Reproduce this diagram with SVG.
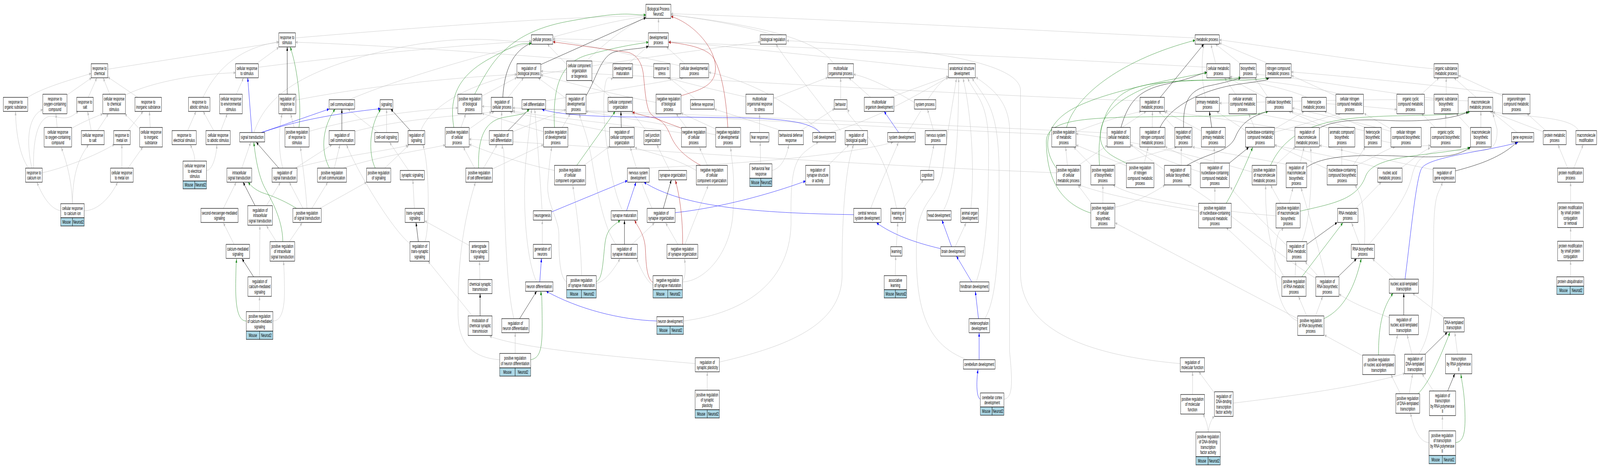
<svg xmlns="http://www.w3.org/2000/svg" width="7615" height="1197" viewBox="0 0 7615 1197" preserveAspectRatio="none">
<style>
svg:root{width:100vw;height:100vh}
text{font-family:"Liberation Sans",Arial,sans-serif;font-size:13px;text-anchor:middle;fill:#000}
.nodes rect{fill:#fff;stroke:#000;stroke-width:1.2}
.nodes rect.m{fill:#add8e6}
#edges path{fill:none;stroke-width:1}
.gy path{stroke:#c0c0c0;marker-end:url(#ag)}
.bk path{stroke:#000;stroke-width:1.2;marker-end:url(#ak)}
.bl path{stroke:#0000ff;stroke-width:1.2;marker-end:url(#ab)}
.gn path{stroke:#228b22;stroke-width:1.2;marker-end:url(#an)}
.rd path{stroke:#b22222;stroke-width:1.2;marker-end:url(#ar)}
</style>
<defs>
<marker id="ag" viewBox="0 0 10 8" refX="10" refY="4" markerWidth="10" markerHeight="8" markerUnits="userSpaceOnUse" orient="auto"><path d="M0,0L10,4L0,8z" fill="#c0c0c0"/></marker>
<marker id="ak" viewBox="0 0 10 8" refX="10" refY="4" markerWidth="10" markerHeight="8" markerUnits="userSpaceOnUse" orient="auto"><path d="M0,0L10,4L0,8z" fill="#000"/></marker>
<marker id="ab" viewBox="0 0 10 8" refX="10" refY="4" markerWidth="10" markerHeight="8" markerUnits="userSpaceOnUse" orient="auto"><path d="M0,0L10,4L0,8z" fill="#0000ff"/></marker>
<marker id="an" viewBox="0 0 10 8" refX="10" refY="4" markerWidth="10" markerHeight="8" markerUnits="userSpaceOnUse" orient="auto"><path d="M0,0L10,4L0,8z" fill="#228b22"/></marker>
<marker id="ar" viewBox="0 0 10 8" refX="10" refY="4" markerWidth="10" markerHeight="8" markerUnits="userSpaceOnUse" orient="auto"><path d="M0,0L10,4L0,8z" fill="#b22222"/></marker>
</defs>
<rect width="7615" height="1197" fill="#fff"/>
<g id="edges">
<g class="gy">
<path d="M132,249 C200,225 330,205 434,188"/>
<path d="M319,243 L436,199"/>
<path d="M420,249 L461,199"/>
<path d="M522,241 L491,199"/>
<path d="M656,249 L513,197"/>
<path d="M513,177 L1327,108"/>
<path d="M597,243 C700,215 900,190 1121,186"/>
<path d="M272,326 L266,291"/>
<path d="M341,328 C400,310 450,300 489,291"/>
<path d="M434,334 L417,285"/>
<path d="M464,334 L516,291"/>
<path d="M609,334 L681,285"/>
<path d="M715,326 L711,285"/>
<path d="M665,330 L594,291"/>
<path d="M136,430 C95,400 75,340 74,285"/>
<path d="M152,430 C130,380 120,300 204,280"/>
<path d="M160,430 C155,330 200,290 260,298 S340,300 373,284"/>
<path d="M201,442 C300,430 450,400 545,369"/>
<path d="M580,430 L580,369"/>
<path d="M609,430 L680,376"/>
<path d="M289,539 C240,535 200,500 176,466"/>
<path d="M345,521 C340,460 320,420 292,377"/>
<path d="M345,521 C345,440 380,400 422,370"/>
<path d="M401,539 C460,539 520,510 560,466"/>
<path d="M966,249 C1010,200 1100,125 1327,107"/>
<path d="M1220,163 L1327,121"/>
<path d="M1124,242 L1159,199"/>
<path d="M893,334 L933,285"/>
<path d="M1017,334 L967,285"/>
<path d="M1051,334 L1082,291"/>
<path d="M927,412 C927,395 915,380 905,370"/>
<path d="M983,436 C1010,436 1030,400 1032,370"/>
<path d="M1400,326 L1383,291"/>
<path d="M1408,256 C1700,225 2100,200 2460,190"/>
<path d="M1208,339 C1260,260 1380,190 1800,134 S2400,110 2529,107"/>
<path d="M1662,255 C1900,200 2300,140 2529,110"/>
<path d="M1800,339 L1656,279"/>
<path d="M1689,336 C1900,305 2200,295 2340,287"/>
<path d="M1953,624 C1870,590 1700,440 1649,370"/>
<path d="M1471,336 C1700,300 2000,280 2179,276"/>
<path d="M1346,430 C1325,390 1325,330 1343,291"/>
<path d="M1403,430 C1600,400 1800,390 1942,372"/>
<path d="M1403,431 L1580,370"/>
<path d="M1151,430 L1193,364"/>
<path d="M1063,533 L1124,466"/>
<path d="M1268,526 L1335,466"/>
<path d="M1442,533 L1377,466"/>
<path d="M1484,533 L1560,466"/>
<path d="M1461,533 C1455,480 1440,420 1430,376"/>
<path d="M1522,533 L1745,466"/>
<path d="M1114,625 L1063,570"/>
<path d="M1235,708 L1237,577"/>
<path d="M1315,618 L1268,577"/>
<path d="M1377,618 L1438,570"/>
<path d="M1235,797 L1235,758"/>
<path d="M1299,821 C1340,821 1355,790 1354,740 S1351,690 1350,668"/>
<path d="M1591,430 L1618,370"/>
<path d="M1633,430 C1800,400 2000,385 2119,371"/>
<path d="M1831,430 L1946,371"/>
<path d="M1840,339 L1840,279"/>
<path d="M2003,334 C2040,280 2200,220 2460,190"/>
<path d="M1945,436 L1854,364"/>
<path d="M1972,533 L1965,460"/>
<path d="M2022,618 C2045,590 2045,420 2012,370"/>
<path d="M2234,628 L2021,565"/>
<path d="M2284,715 L2282,668"/>
<path d="M2248,808 L2037,668"/>
<path d="M3309,930 C3000,915 2500,895 2330,860"/>
<path d="M2194,326 L2217,291"/>
<path d="M2293,246 L2460,198"/>
<path d="M2418,249 L2492,199"/>
<path d="M2574,190 C2900,160 3300,130 3618,107"/>
<path d="M2597,258 C2800,240 3100,215 3252,199"/>
<path d="M2386,334 L2388,285"/>
<path d="M2441,337 L2694,280"/>
<path d="M2233,330 L2352,285"/>
<path d="M2301,430 L2366,370"/>
<path d="M2259,430 L2205,376"/>
<path d="M2344,432 L2587,370"/>
<path d="M2695,252 L2561,199"/>
<path d="M2676,326 L2714,291"/>
<path d="M2588,337 L2293,290"/>
<path d="M2697,165 L2605,113"/>
<path d="M2909,249 L2813,206"/>
<path d="M2901,337 C2750,320 2550,300 2427,286"/>
<path d="M2779,423 L2902,374"/>
<path d="M2639,436 C2500,420 2350,395 2233,369"/>
<path d="M2580,539 C2570,450 2555,340 2545,279"/>
<path d="M2581,625 L2581,563"/>
<path d="M2554,721 C2500,660 2485,500 2505,400 S2525,300 2531,279"/>
<path d="M2446,815 C2410,740 2400,550 2400,450 S2392,390 2390,370"/>
<path d="M2452,904 L2452,851"/>
<path d="M2378,920 C2250,915 2180,880 2180,800 S2185,600 2263,466"/>
<path d="M2963,539 C2900,470 2865,300 2875,240 S2900,205 2918,199"/>
<path d="M2932,625 C2880,590 2845,500 2820,420 S2770,320 2757,291"/>
<path d="M2838,725 C2880,720 2920,690 2951,662"/>
<path d="M2697,721 C2660,710 2660,640 2660,600 S2600,520 2607,470 S2620,395 2626,376"/>
<path d="M2768,705 C2765,620 2745,540 2726,474"/>
<path d="M3108,730 C3080,720 3050,690 3030,661"/>
<path d="M3248,719 C3262,710 3264,690 3258,662"/>
<path d="M3248,721 C3350,720 3480,650 3489,540 S3482,420 3478,377"/>
<path d="M3065,430 C3500,420 4000,400 4250,364"/>
<path d="M3187,436 L3126,370"/>
<path d="M3075,334 C3040,310 3020,295 3005,285"/>
<path d="M3103,533 C3060,480 3020,420 3000,376"/>
<path d="M3226,625 L3168,570"/>
<path d="M3260,625 L3371,474"/>
<path d="M3008,625 L3115,570"/>
<path d="M3367,423 L3329,377"/>
<path d="M3314,436 C3200,400 3080,390 3021,377"/>
<path d="M3268,327 L3218,291"/>
<path d="M3243,340 C3000,320 2600,300 2440,284"/>
<path d="M3122,262 C2900,240 2700,210 2574,192"/>
<path d="M3406,330 L3241,289"/>
<path d="M3406,345 C3200,320 2950,300 2789,285"/>
<path d="M3111,170 C2500,140 1800,115 1406,108"/>
<path d="M3260,163 L3172,120"/>
<path d="M3235,168 C3000,140 2800,115 2632,102"/>
<path d="M3134,84 L3134,47"/>
<path d="M2631,95 C2800,70 2950,50 3074,42"/>
<path d="M1406,97 C2000,70 2600,45 3074,40"/>
<path d="M3680,89 C3500,60 3300,45 3193,38"/>
<path d="M5688,97 C5000,80 4000,50 3193,35"/>
<path d="M3968,163 C3900,110 3700,70 3193,38"/>
<path d="M3314,255 L3184,199"/>
<path d="M3681,252 L3940,198"/>
<path d="M3550,248 C3400,230 3250,210 3176,199"/>
<path d="M3615,339 L3615,291"/>
<path d="M3620,419 L3618,363"/>
<path d="M3674,436 C3720,430 3745,400 3754,370"/>
<path d="M3719,334 L3400,279"/>
<path d="M3811,334 L3972,278"/>
<path d="M4001,255 L4001,199"/>
<path d="M4144,249 L4040,199"/>
<path d="M4238,249 L4514,195"/>
<path d="M3903,339 C3800,280 3600,210 3374,185"/>
<path d="M3949,339 C4200,300 4400,230 4514,198"/>
<path d="M4000,334 C3900,260 3760,170 3693,113"/>
<path d="M3941,423 L4041,370"/>
<path d="M3424,926 C3800,880 4010,820 4008,700 S4020,430 4063,370"/>
<path d="M3366,998 L3366,951"/>
<path d="M3253,821 C3550,800 3770,720 3765,560 S3800,400 3895,363"/>
<path d="M4144,533 C4180,480 4250,400 4276,364"/>
<path d="M4319,339 C4380,290 4440,220 4514,196"/>
<path d="M4352,262 C4250,230 4150,200 4062,190"/>
<path d="M4443,334 L4414,279"/>
<path d="M4420,436 L4445,370"/>
<path d="M4299,533 L4395,460"/>
<path d="M4267,533 C4240,460 4200,390 4100,330 S4040,285 4033,279"/>
<path d="M4266,631 L4273,569"/>
<path d="M4261,705 L4263,655"/>
<path d="M4489,539 C4540,490 4560,400 4563,200"/>
<path d="M4621,533 C4640,420 4620,280 4583,200"/>
<path d="M4546,631 L4598,570"/>
<path d="M4646,721 C4700,640 4705,500 4705,380 S4650,250 4605,200"/>
<path d="M4687,815 C4750,760 4755,620 4755,450 S4700,260 4626,200"/>
<path d="M4603,920 C4400,880 4355,780 4362,620 C4370,500 4470,520 4490,420 C4510,330 4540,250 4552,200"/>
<path d="M4778,1021 C4820,1018 4820,980 4805,900 L4805,330 C4800,250 4700,220 4644,197"/>
<path d="M4514,178 C4000,150 3500,120 3182,106"/>
<path d="M5121,337 C5250,310 5350,295 5431,285"/>
<path d="M5006,344 C4000,320 3000,290 2294,272"/>
<path d="M5080,423 L5072,376"/>
<path d="M5133,423 L5270,372"/>
<path d="M5028,442 C4000,420 3000,380 2233,356"/>
<path d="M5195,423 L5110,376"/>
<path d="M5290,423 L5600,376"/>
<path d="M5340,326 L5455,285"/>
<path d="M5269,340 C4500,320 3200,290 2440,276"/>
<path d="M5195,520 L5130,473"/>
<path d="M5249,520 L5249,473"/>
<path d="M5306,530 C5400,520 5500,490 5545,473"/>
<path d="M5446,417 L5465,376"/>
<path d="M5361,424 L5122,371"/>
<path d="M5786,163 L5763,113"/>
<path d="M5744,172 C5000,150 3500,110 2632,99"/>
<path d="M5905,163 L5785,113"/>
<path d="M6039,163 L5803,110"/>
<path d="M5426,258 C4500,240 3300,200 2574,182"/>
<path d="M5737,249 C5715,200 5720,140 5730,113"/>
<path d="M5882,242 L5828,199"/>
<path d="M6028,251 L5845,199"/>
<path d="M6035,249 L5972,199"/>
<path d="M6313,265 C6450,270 6550,275 6648,280"/>
<path d="M6220,249 C6100,220 5900,205 5850,199"/>
<path d="M6380,241 C6200,215 5950,205 5854,196"/>
<path d="M6358,245 L6146,193"/>
<path d="M5484,326 L5485,285"/>
<path d="M5595,330 L5515,285"/>
<path d="M5718,335 L5540,285"/>
<path d="M5970,326 L5943,291"/>
<path d="M6066,330 L6207,285"/>
<path d="M6066,338 C6200,320 6300,300 6380,291"/>
<path d="M5928,334 L5790,285"/>
<path d="M6163,335 C5900,310 5700,295 5545,284"/>
<path d="M6341,328 L5985,291"/>
<path d="M6330,330 L6134,285"/>
<path d="M6502,327 L6303,285"/>
<path d="M6495,335 C6300,310 6200,295 6145,285"/>
<path d="M6574,360 C6650,370 6750,375 6809,372"/>
<path d="M5622,423 L5622,376"/>
<path d="M5542,435 L5380,370"/>
<path d="M5779,417 L5779,376"/>
<path d="M5714,420 L5545,375"/>
<path d="M5713,440 C5600,420 5450,390 5380,370"/>
<path d="M6069,423 L6165,376"/>
<path d="M5959,440 C5700,400 5400,360 5121,342"/>
<path d="M6188,417 L6207,376"/>
<path d="M6121,420 L5675,376"/>
<path d="M6316,432 L6066,370"/>
<path d="M6386,423 L6386,376"/>
<path d="M6440,423 L6498,376"/>
<path d="M6455,423 C6550,400 6600,380 6640,376"/>
<path d="M6567,430 C6400,405 6200,385 6066,372"/>
<path d="M6667,430 C6720,410 6760,390 6807,378"/>
<path d="M5782,520 L5782,480"/>
<path d="M5705,540 C5500,520 5300,505 5135,473"/>
<path d="M6095,520 L6047,473"/>
<path d="M6135,520 L6154,480"/>
<path d="M6073,552 C5800,540 5400,510 5297,473"/>
<path d="M6452,533 L6574,466"/>
<path d="M6124,628 C6000,560 5900,510 5855,478"/>
<path d="M6196,618 C6240,560 6245,440 6238,377"/>
<path d="M6471,625 L6433,570"/>
<path d="M6494,625 C6500,570 6490,500 6448,474"/>
<path d="M6518,623 C6620,560 6700,500 6720,450 C6740,400 6800,385 6900,384 C7050,385 7130,400 7125,330 L7105,290"/>
<path d="M6164,708 L6167,668"/>
<path d="M6101,715 L5836,582"/>
<path d="M6112,708 C6040,650 6020,550 6024,474"/>
<path d="M6276,708 L6211,669"/>
<path d="M6307,708 C6270,620 6220,530 6192,480"/>
<path d="M6262,712 C6050,640 5800,520 5652,474"/>
<path d="M6219,808 L6180,758"/>
<path d="M6261,808 L6295,758"/>
<path d="M6176,821 C6080,800 6060,700 6070,640 S6100,590 6108,582"/>
<path d="M6176,815 L5307,570"/>
<path d="M6485,910 L6303,857"/>
<path d="M6630,908 L6652,856"/>
<path d="M5617,930 C5200,910 4860,850 4857,700 L4857,230 C4850,160 4400,120 3744,104"/>
<path d="M5676,1009 L5676,951"/>
<path d="M5780,1005 L5706,951"/>
<path d="M5750,1105 C5748,1085 5735,1068 5725,1059"/>
<path d="M5750,1105 C5755,1085 5768,1070 5780,1065"/>
<path d="M5869,1031 C6200,1010 6500,985 6687,955"/>
<path d="M6825,176 C6500,160 6000,115 5803,102"/>
<path d="M6765,241 L6849,199"/>
<path d="M6883,241 L6883,199"/>
<path d="M6825,252 C6500,230 6200,200 5979,190"/>
<path d="M7024,248 L6920,199"/>
<path d="M6988,258 C6600,250 6100,260 5803,264"/>
<path d="M7151,245 L6941,193"/>
<path d="M7160,241 C6800,215 6400,195 6145,184"/>
<path d="M6620,330 L6492,290"/>
<path d="M6620,336 C6450,310 6250,290 6150,276"/>
<path d="M6830,326 L6765,290"/>
<path d="M6881,326 L6881,291"/>
<path d="M6999,330 L6930,290"/>
<path d="M7048,326 L7048,285"/>
<path d="M7221,339 L7098,285"/>
<path d="M7345,337 L7090,285"/>
<path d="M7357,334 L7267,290"/>
<path d="M7513,334 C7480,300 7300,300 7105,287"/>
<path d="M6821,434 C6600,410 6400,385 6279,372"/>
<path d="M7461,430 L7415,370"/>
<path d="M7490,430 L7535,370"/>
<path d="M7475,519 L7475,466"/>
<path d="M7475,617 L7475,582"/>
<path d="M7475,708 L7475,667"/>
<path d="M6640,714 L6532,662"/>
<path d="M6612,812 C6500,790 6420,770 6373,752"/>
<path d="M6875,813 L6723,750"/>
<path d="M6720,906 L6697,856"/>
<path d="M6753,906 C6820,850 6823,760 6823,620 S6850,500 6865,465"/>
<path d="M6937,906 L6924,850"/>
<path d="M6707,1007 L6723,956"/>
<path d="M6665,1007 L6620,958"/>
<path d="M6823,1000 L6768,956"/>
<path d="M6865,1102 L6865,1063"/>
<path d="M6801,1132 C6760,1132 6730,1100 6713,1056"/>
<path d="M1230,172 C1700,140 2200,115 2529,105"/>
<path d="M2990,163 L3086,117"/>
<path d="M2790,156 C2900,100 3000,60 3074,46"/>
</g>
<g class="bk">
<path d="M1367,241 L1367,120"/>
<path d="M1627,334 L1627,279"/>
<path d="M1327,430 L1220,364"/>
<path d="M1214,526 L1157,466"/>
<path d="M1207,708 L1152,662"/>
<path d="M1953,334 L1860,279"/>
<path d="M1991,618 L1980,569"/>
<path d="M2285,808 L2285,751"/>
<path d="M2393,249 C2400,180 2440,130 2529,110"/>
<path d="M2574,165 L3074,45"/>
<path d="M2418,334 L2519,279"/>
<path d="M2789,245 C2840,200 2860,140 2930,132 S3060,125 3086,118"/>
<path d="M2957,326 L2955,285"/>
<path d="M2473,815 L2554,745"/>
<path d="M2972,625 L2972,563"/>
<path d="M3157,533 L3195,460"/>
<path d="M5335,326 C5370,260 5420,230 5550,215 S5700,190 5744,185"/>
<path d="M5522,249 L5729,113"/>
<path d="M5521,326 C5560,280 5700,230 5900,215 S6010,205 6040,199"/>
<path d="M5633,326 C5630,260 5660,230 5750,220 S5870,205 5905,199"/>
<path d="M5767,326 L5756,285"/>
<path d="M6279,328 C6350,305 6500,305 6600,308 S6900,310 6988,286"/>
<path d="M5649,423 C5750,390 5850,390 5880,350 S5970,295 6035,285"/>
<path d="M5851,417 L5943,377"/>
<path d="M6219,428 C6300,395 6500,395 6700,400 S6950,395 6999,376"/>
<path d="M6220,625 L6364,569"/>
<path d="M6368,708 L6456,662"/>
<path d="M6927,437 C7050,420 7150,400 7221,363"/>
<path d="M6681,806 L6681,750"/>
<path d="M6782,906 L6888,850"/>
<path d="M6890,1000 L6924,956"/>
</g>
<g class="bl">
<path d="M1199,339 L1179,199"/>
<path d="M1239,340 L1566,279"/>
<path d="M1239,340 C1400,310 1600,290 1810,278"/>
<path d="M2625,542 L2986,462"/>
<path d="M2569,721 L2577,661"/>
<path d="M3126,821 C2950,818 2750,790 2600,745"/>
<path d="M2982,539 L3027,466"/>
<path d="M4063,549 C3600,545 3250,530 3065,466"/>
<path d="M3213,544 C3450,530 3700,490 3834,463"/>
<path d="M4277,339 L4208,285"/>
<path d="M4529,631 L4483,563"/>
<path d="M4477,636 C4350,620 4250,600 4172,570"/>
<path d="M4625,721 L4552,655"/>
<path d="M4657,815 L4642,745"/>
<path d="M4660,920 L4660,851"/>
<path d="M4666,1021 C4648,1018 4645,980 4655,945"/>
<path d="M6687,714 C6710,620 6740,450 6767,430 C6800,400 7100,385 7225,364"/>
<path d="M3903,339 C3850,308 3700,300 3300,300 S2700,298 2580,280"/>
</g>
<g class="gn">
<path d="M1423,326 C1435,280 1420,180 1381,120"/>
<path d="M1568,430 C1520,380 1540,320 1595,279"/>
<path d="M1346,618 C1345,560 1290,510 1260,480 S1215,400 1208,364"/>
<path d="M1411,533 C1360,515 1290,500 1260,495 S1200,480 1181,466"/>
<path d="M1172,821 C1130,821 1120,780 1122,720 S1124,680 1126,662"/>
<path d="M1786,430 C1750,390 1760,320 1812,279"/>
<path d="M2259,241 C2330,170 2400,85 2700,55 S3000,40 3074,38"/>
<path d="M2160,326 C2140,260 2160,200 2330,150 S2480,115 2529,111"/>
<path d="M2278,430 C2275,370 2290,310 2400,300 S2500,290 2519,279"/>
<path d="M2639,326 C2630,230 2660,160 2800,140 S3000,115 3086,108"/>
<path d="M2745,423 L2928,285"/>
<path d="M2526,920 C2580,915 2582,880 2580,800 S2575,760 2574,745"/>
<path d="M2838,720 C2870,715 2870,660 2880,620 S2930,575 2952,563"/>
<path d="M5076,326 C5120,240 5350,150 5688,103"/>
<path d="M5028,430 C4960,380 4970,320 5100,280 S5500,210 5744,186"/>
<path d="M5233,423 C5220,330 5260,250 5400,225 S5800,210 5905,198"/>
<path d="M5192,545 C5050,520 4980,460 4980,360 C4985,300 5200,300 5600,298 S5950,295 6035,285"/>
<path d="M5362,418 C5300,400 5240,390 5237,350 C5235,300 5300,260 5450,225 S5900,215 6035,199"/>
<path d="M6047,423 C6100,360 6200,320 6400,305 S6900,300 6995,286"/>
<path d="M5836,520 C5880,480 5930,420 5962,377"/>
<path d="M6188,540 C6350,520 6460,510 6500,450 C6540,395 6800,400 6995,378"/>
<path d="M6196,708 L6391,570"/>
<path d="M6301,815 C6400,790 6450,730 6479,661"/>
<path d="M6561,908 C6560,820 6590,780 6630,750"/>
<path d="M6749,1007 C6800,980 6850,920 6901,850"/>
<path d="M6928,1132 C6970,1130 6975,1100 6972,1050 S6958,980 6953,957"/>
</g>
<g class="rd">
<path d="M3108,722 C3080,715 3075,680 3072,640 S3040,585 3020,563"/>
<path d="M3249,625 C3250,560 3235,500 3214,461"/>
<path d="M3335,423 C3240,395 3210,370 3190,345 S3150,305 3100,300 S3030,290 3010,287"/>
<path d="M3243,328 C3170,312 3105,305 3088,283 C3072,260 3068,220 3062,190 C3055,160 3030,140 2990,134 L2632,107"/>
<path d="M3241,245 C3330,230 3410,220 3405,170 S3300,60 3194,42"/>
<path d="M3464,326 C3455,240 3430,180 3398,150 S3250,112 3182,108"/>
</g>
</g>
<g class="nodes">
<g id="bp"><rect x="3074" y="11" width="119" height="36"/><text x="3133.5" y="26.75">Biological Process<tspan x="3133.5" dy="13.5">Neurod2</tspan></text></g>
<g id="devp"><rect x="3086" y="84" width="95" height="36"/><text x="3133.5" y="99.75">developmental<tspan x="3133.5" dy="13.5">process</tspan></text></g>
<g id="cellp"><rect x="2529" y="89" width="102" height="24"/><text x="2580" y="105.5">cellular process</text></g>
<g id="rstim"><rect x="1327" y="84" width="79" height="36"/><text x="1366.5" y="99.75">response to<tspan x="1366.5" dy="13.5">stimulus</tspan></text></g>
<g id="bioreg"><rect x="3618" y="89" width="124" height="24"/><text x="3680" y="105.5">biological regulation</text></g>
<g id="metab"><rect x="5688" y="89" width="115" height="24"/><text x="5745.5" y="105.5">metabolic process</text></g>
<g id="rchem"><rect x="434" y="163" width="79" height="36"/><text x="473.5" y="178.75">response to<tspan x="473.5" dy="13.5">chemical</tspan></text></g>
<g id="crstim"><rect x="1121" y="163" width="109" height="36"/><text x="1175.5" y="178.75">cellular response<tspan x="1175.5" dy="13.5">to stimulus</tspan></text></g>
<g id="regbp"><rect x="2460" y="163" width="114" height="36"/><text x="2517" y="178.75">regulation of<tspan x="2517" dy="13.5">biological process</tspan></text></g>
<g id="ccob"><rect x="2697" y="156" width="120" height="50"/><text x="2757" y="172">cellular component<tspan x="2757" dy="13.5">organization</tspan><tspan x="2757" dy="13.5">or biogenesis</tspan></text></g>
<g id="devmat"><rect x="2917" y="163" width="94" height="36"/><text x="2964" y="178.75">developmental<tspan x="2964" dy="13.5">maturation</tspan></text></g>
<g id="rstress"><rect x="3111" y="163" width="78" height="36"/><text x="3150" y="178.75">response to<tspan x="3150" dy="13.5">stress</tspan></text></g>
<g id="celldev"><rect x="3235" y="163" width="138" height="36"/><text x="3304" y="178.75">cellular developmental<tspan x="3304" dy="13.5">process</tspan></text></g>
<g id="mop"><rect x="3940" y="163" width="122" height="36"/><text x="4001" y="178.75">multicellular<tspan x="4001" dy="13.5">organismal process</tspan></text></g>
<g id="asd"><rect x="4514" y="163" width="128" height="36"/><text x="4578" y="178.75">anatomical structure<tspan x="4578" dy="13.5">development</tspan></text></g>
<g id="cmp"><rect x="5744" y="163" width="110" height="36"/><text x="5799" y="178.75">cellular metabolic<tspan x="5799" dy="13.5">process</tspan></text></g>
<g id="bsp"><rect x="5900" y="163" width="79" height="36"/><text x="5939.5" y="178.75">biosynthetic<tspan x="5939.5" dy="13.5">process</tspan></text></g>
<g id="ncmp"><rect x="6024" y="163" width="121" height="36"/><text x="6084.5" y="178.75">nitrogen compound<tspan x="6084.5" dy="13.5">metabolic process</tspan></text></g>
<g id="osmp"><rect x="6825" y="163" width="115" height="36"/><text x="6882.5" y="178.75">organic substance<tspan x="6882.5" dy="13.5">metabolic process</tspan></text></g>
<g id="rorg"><rect x="16" y="249" width="116" height="36"/><text x="74" y="264.75">response to<tspan x="74" dy="13.5">organic substance</tspan></text></g>
<g id="roxy"><rect x="204" y="241" width="115" height="50"/><text x="261.5" y="257">response to<tspan x="261.5" dy="13.5">oxygen-containing</tspan><tspan x="261.5" dy="13.5">compound</tspan></text></g>
<g id="rsalt"><rect x="365" y="249" width="79" height="36"/><text x="404.5" y="264.75">response to<tspan x="404.5" dy="13.5">salt</tspan></text></g>
<g id="crchem"><rect x="489" y="241" width="108" height="50"/><text x="543" y="257">cellular response<tspan x="543" dy="13.5">to chemical</tspan><tspan x="543" dy="13.5">stimulus</tspan></text></g>
<g id="rinorg"><rect x="642" y="249" width="127" height="36"/><text x="705.5" y="264.75">response to<tspan x="705.5" dy="13.5">inorganic substance</tspan></text></g>
<g id="rabio"><rect x="897" y="249" width="102" height="36"/><text x="948" y="264.75">response to<tspan x="948" dy="13.5">abiotic stimulus</tspan></text></g>
<g id="crenv"><rect x="1045" y="241" width="108" height="50"/><text x="1099" y="257">cellular response<tspan x="1099" dy="13.5">to environmental</tspan><tspan x="1099" dy="13.5">stimulus</tspan></text></g>
<g id="regrs"><rect x="1327" y="241" width="81" height="50"/><text x="1367.5" y="257">regulation of<tspan x="1367.5" dy="13.5">response to</tspan><tspan x="1367.5" dy="13.5">stimulus</tspan></text></g>
<g id="ccomm"><rect x="1566" y="255" width="122" height="24"/><text x="1627" y="271.5">cell communication</text></g>
<g id="sig"><rect x="1809" y="255" width="61" height="24"/><text x="1839.5" y="271.5">signaling</text></g>
<g id="prbp"><rect x="2179" y="241" width="114" height="50"/><text x="2236" y="257">positive regulation<tspan x="2236" dy="13.5">of biological</tspan><tspan x="2236" dy="13.5">process</tspan></text></g>
<g id="regcp"><rect x="2338" y="249" width="102" height="36"/><text x="2389" y="264.75">regulation of<tspan x="2389" dy="13.5">cellular process</tspan></text></g>
<g id="cdiff"><rect x="2484" y="255" width="113" height="24"/><text x="2540.5" y="271.5">cell differentiation</text></g>
<g id="regdp"><rect x="2694" y="241" width="95" height="50"/><text x="2741.5" y="257">regulation of<tspan x="2741.5" dy="13.5">developmental</tspan><tspan x="2741.5" dy="13.5">process</tspan></text></g>
<g id="cco"><rect x="2894" y="249" width="117" height="36"/><text x="2952.5" y="264.75">cellular component<tspan x="2952.5" dy="13.5">organization</tspan></text></g>
<g id="nrbp"><rect x="3122" y="241" width="119" height="50"/><text x="3181.5" y="257">negative regulation<tspan x="3181.5" dy="13.5">of biological</tspan><tspan x="3181.5" dy="13.5">process</tspan></text></g>
<g id="defr"><rect x="3286" y="255" width="113" height="24"/><text x="3342.5" y="271.5">defense response</text></g>
<g id="mors"><rect x="3550" y="241" width="131" height="50"/><text x="3615.5" y="257">multicellular<tspan x="3615.5" dy="13.5">organismal response</tspan><tspan x="3615.5" dy="13.5">to stress</tspan></text></g>
<g id="behav"><rect x="3970" y="255" width="61" height="24"/><text x="4000.5" y="271.5">behavior</text></g>
<g id="mod"><rect x="4113" y="249" width="142" height="36"/><text x="4184" y="264.75">multicellular<tspan x="4184" dy="13.5">organism development</tspan></text></g>
<g id="sysp"><rect x="4352" y="255" width="102" height="24"/><text x="4403" y="271.5">system process</text></g>
<g id="regmp"><rect x="5426" y="249" width="116" height="36"/><text x="5484" y="264.75">regulation of<tspan x="5484" dy="13.5">metabolic process</tspan></text></g>
<g id="pmp"><rect x="5691" y="249" width="112" height="36"/><text x="5747" y="264.75">primary metabolic<tspan x="5747" dy="13.5">process</tspan></text></g>
<g id="camp"><rect x="5849" y="241" width="131" height="50"/><text x="5914.5" y="257">cellular aromatic<tspan x="5914.5" dy="13.5">compound metabolic</tspan><tspan x="5914.5" dy="13.5">process</tspan></text></g>
<g id="cbsp"><rect x="6025" y="249" width="125" height="36"/><text x="6087.5" y="264.75">cellular biosynthetic<tspan x="6087.5" dy="13.5">process</tspan></text></g>
<g id="hmp"><rect x="6196" y="249" width="117" height="36"/><text x="6254.5" y="264.75">heterocycle<tspan x="6254.5" dy="13.5">metabolic process</tspan></text></g>
<g id="cncmp"><rect x="6358" y="241" width="131" height="50"/><text x="6423.5" y="257">cellular nitrogen<tspan x="6423.5" dy="13.5">compound metabolic</tspan><tspan x="6423.5" dy="13.5">process</tspan></text></g>
<g id="occmp"><rect x="6648" y="241" width="131" height="50"/><text x="6713.5" y="257">organic cyclic<tspan x="6713.5" dy="13.5">compound metabolic</tspan><tspan x="6713.5" dy="13.5">process</tspan></text></g>
<g id="osbp"><rect x="6825" y="241" width="115" height="50"/><text x="6882.5" y="257">organic substance<tspan x="6882.5" dy="13.5">biosynthetic</tspan><tspan x="6882.5" dy="13.5">process</tspan></text></g>
<g id="mmp"><rect x="6988" y="249" width="117" height="36"/><text x="7046.5" y="264.75">macromolecule<tspan x="7046.5" dy="13.5">metabolic process</tspan></text></g>
<g id="oncmp"><rect x="7151" y="241" width="131" height="50"/><text x="7216.5" y="257">organonitrogen<tspan x="7216.5" dy="13.5">compound metabolic</tspan><tspan x="7216.5" dy="13.5">process</tspan></text></g>
<g id="croxy"><rect x="210" y="326" width="131" height="50"/><text x="275.5" y="342">cellular response<tspan x="275.5" dy="13.5">to oxygen-containing</tspan><tspan x="275.5" dy="13.5">compound</tspan></text></g>
<g id="crsalt"><rect x="387" y="334" width="109" height="36"/><text x="441.5" y="349.75">cellular response<tspan x="441.5" dy="13.5">to salt</tspan></text></g>
<g id="rmetal"><rect x="541" y="334" width="79" height="36"/><text x="580.5" y="349.75">response to<tspan x="580.5" dy="13.5">metal ion</tspan></text></g>
<g id="crinorg"><rect x="665" y="326" width="108" height="50"/><text x="719" y="342">cellular response<tspan x="719" dy="13.5">to inorganic</tspan><tspan x="719" dy="13.5">substance</tspan></text></g>
<g id="relec"><rect x="819" y="334" width="115" height="36"/><text x="876.5" y="349.75">response to<tspan x="876.5" dy="13.5">electrical stimulus</tspan></text></g>
<g id="crabio"><rect x="980" y="334" width="116" height="36"/><text x="1038" y="349.75">cellular response<tspan x="1038" dy="13.5">to abiotic stimulus</tspan></text></g>
<g id="st"><rect x="1141" y="339" width="119" height="24"/><text x="1200.5" y="355.5">signal transduction</text></g>
<g id="prrs"><rect x="1356" y="326" width="115" height="50"/><text x="1413.5" y="342">positive regulation<tspan x="1413.5" dy="13.5">of response to</tspan><tspan x="1413.5" dy="13.5">stimulus</tspan></text></g>
<g id="regcc"><rect x="1566" y="334" width="123" height="36"/><text x="1627.5" y="349.75">regulation of<tspan x="1627.5" dy="13.5">cell communication</tspan></text></g>
<g id="ccsig"><rect x="1784" y="339" width="111" height="24"/><text x="1839.5" y="355.5">cell-cell signaling</text></g>
<g id="regsig"><rect x="1942" y="334" width="80" height="36"/><text x="1982" y="349.75">regulation of<tspan x="1982" dy="13.5">signaling</tspan></text></g>
<g id="prcp"><rect x="2119" y="326" width="114" height="50"/><text x="2176" y="342">positive regulation<tspan x="2176" dy="13.5">of cellular</tspan><tspan x="2176" dy="13.5">process</tspan></text></g>
<g id="regcd"><rect x="2329" y="334" width="112" height="36"/><text x="2385" y="349.75">regulation of<tspan x="2385" dy="13.5">cell differentiation</tspan></text></g>
<g id="prdp"><rect x="2587" y="326" width="116" height="50"/><text x="2645" y="342">positive regulation<tspan x="2645" dy="13.5">of developmental</tspan><tspan x="2645" dy="13.5">process</tspan></text></g>
<g id="regcco"><rect x="2901" y="326" width="118" height="50"/><text x="2960" y="342">regulation of<tspan x="2960" dy="13.5">cellular component</tspan><tspan x="2960" dy="13.5">organization</tspan></text></g>
<g id="cjo"><rect x="3065" y="334" width="80" height="36"/><text x="3105" y="349.75">cell junction<tspan x="3105" dy="13.5">organization</tspan></text></g>
<g id="nrcp"><rect x="3243" y="326" width="118" height="50"/><text x="3302" y="342">negative regulation<tspan x="3302" dy="13.5">of cellular</tspan><tspan x="3302" dy="13.5">process</tspan></text></g>
<g id="nrdp"><rect x="3406" y="326" width="119" height="50"/><text x="3465.5" y="342">negative regulation<tspan x="3465.5" dy="13.5">of developmental</tspan><tspan x="3465.5" dy="13.5">process</tspan></text></g>
<g id="fear"><rect x="3570" y="339" width="90" height="24"/><text x="3615" y="355.5">fear response</text></g>
<g id="bdr"><rect x="3705" y="334" width="119" height="36"/><text x="3764.5" y="349.75">behavioral defense<tspan x="3764.5" dy="13.5">response</tspan></text></g>
<g id="celldv"><rect x="3868" y="339" width="109" height="24"/><text x="3922.5" y="355.5">cell development</text></g>
<g id="regbq"><rect x="4022" y="334" width="107" height="36"/><text x="4075.5" y="349.75">regulation of<tspan x="4075.5" dy="13.5">biological quality</tspan></text></g>
<g id="sysdev"><rect x="4225" y="339" width="131" height="24"/><text x="4290.5" y="355.5">system development</text></g>
<g id="nsp"><rect x="4403" y="334" width="102" height="36"/><text x="4454" y="349.75">nervous system<tspan x="4454" dy="13.5">process</tspan></text></g>
<g id="prmp"><rect x="5006" y="326" width="115" height="50"/><text x="5063.5" y="342">positive regulation<tspan x="5063.5" dy="13.5">of metabolic</tspan><tspan x="5063.5" dy="13.5">process</tspan></text></g>
<g id="regcmp"><rect x="5269" y="326" width="111" height="50"/><text x="5324.5" y="342">regulation of<tspan x="5324.5" dy="13.5">cellular metabolic</tspan><tspan x="5324.5" dy="13.5">process</tspan></text></g>
<g id="regncmp"><rect x="5425" y="326" width="120" height="50"/><text x="5485" y="342">regulation of<tspan x="5485" dy="13.5">nitrogen compound</tspan><tspan x="5485" dy="13.5">metabolic process</tspan></text></g>
<g id="regbsp"><rect x="5591" y="326" width="82" height="50"/><text x="5632" y="342">regulation of<tspan x="5632" dy="13.5">biosynthetic</tspan><tspan x="5632" dy="13.5">process</tspan></text></g>
<g id="regpmp"><rect x="5718" y="326" width="114" height="50"/><text x="5775" y="342">regulation of<tspan x="5775" dy="13.5">primary metabolic</tspan><tspan x="5775" dy="13.5">process</tspan></text></g>
<g id="nbcmp"><rect x="5928" y="326" width="138" height="50"/><text x="5997" y="342">nucleobase-containing<tspan x="5997" dy="13.5">compound metabolic</tspan><tspan x="5997" dy="13.5">process</tspan></text></g>
<g id="regmmp"><rect x="6163" y="326" width="116" height="50"/><text x="6221" y="342">regulation of<tspan x="6221" dy="13.5">macromolecule</tspan><tspan x="6221" dy="13.5">metabolic process</tspan></text></g>
<g id="acbsp"><rect x="6324" y="326" width="124" height="50"/><text x="6386" y="342">aromatic compound<tspan x="6386" dy="13.5">biosynthetic</tspan><tspan x="6386" dy="13.5">process</tspan></text></g>
<g id="hbsp"><rect x="6493" y="326" width="81" height="50"/><text x="6533.5" y="342">heterocycle<tspan x="6533.5" dy="13.5">biosynthetic</tspan><tspan x="6533.5" dy="13.5">process</tspan></text></g>
<g id="cncbsp"><rect x="6620" y="326" width="144" height="50"/><text x="6692" y="342">cellular nitrogen<tspan x="6692" dy="13.5">compound biosynthetic</tspan><tspan x="6692" dy="13.5">process</tspan></text></g>
<g id="occbsp"><rect x="6809" y="326" width="144" height="50"/><text x="6881" y="342">organic cyclic<tspan x="6881" dy="13.5">compound biosynthetic</tspan><tspan x="6881" dy="13.5">process</tspan></text></g>
<g id="mbsp"><rect x="6999" y="326" width="98" height="50"/><text x="7048" y="342">macromolecule<tspan x="7048" dy="13.5">biosynthetic</tspan><tspan x="7048" dy="13.5">process</tspan></text></g>
<g id="gexp"><rect x="7194" y="339" width="106" height="24"/><text x="7247" y="355.5">gene expression</text></g>
<g id="protmp"><rect x="7345" y="334" width="109" height="36"/><text x="7399.5" y="349.75">protein metabolic<tspan x="7399.5" dy="13.5">process</tspan></text></g>
<g id="macmod"><rect x="7500" y="334" width="99" height="36"/><text x="7549.5" y="349.75">macromolecule<tspan x="7549.5" dy="13.5">modification</tspan></text></g>
<g id="rca"><rect x="122" y="430" width="79" height="36"/><text x="161.5" y="445.75">response to<tspan x="161.5" dy="13.5">calcium ion</tspan></text></g>
<g id="crmetal"><rect x="526" y="430" width="108" height="36"/><text x="580" y="445.75">cellular response<tspan x="580" dy="13.5">to metal ion</tspan></text></g>
<g id="crelec"><rect x="871" y="412" width="112" height="51"/><text x="927" y="428.5">cellular response<tspan x="927" dy="13.5">to electrical</tspan><tspan x="927" dy="13.5">stimulus</tspan></text><rect class="m" x="871" y="463" width="56" height="20"/><rect class="m" x="927" y="463" width="56" height="20"/><text x="899" y="477.5">Mouse</text><text x="955" y="477.5">Neurod2</text></g>
<g id="ist"><rect x="1080" y="430" width="118" height="36"/><text x="1139" y="445.75">intracellular<tspan x="1139" dy="13.5">signal transduction</tspan></text></g>
<g id="regst"><rect x="1295" y="430" width="119" height="36"/><text x="1354.5" y="445.75">regulation of<tspan x="1354.5" dy="13.5">signal transduction</tspan></text></g>
<g id="prcc"><rect x="1511" y="430" width="138" height="36"/><text x="1580" y="445.75">positive regulation<tspan x="1580" dy="13.5">of cell communication</tspan></text></g>
<g id="prsig"><rect x="1745" y="430" width="115" height="36"/><text x="1802.5" y="445.75">positive regulation<tspan x="1802.5" dy="13.5">of signaling</tspan></text></g>
<g id="synsig"><rect x="1905" y="436" width="115" height="24"/><text x="1962.5" y="452.5">synaptic signaling</text></g>
<g id="prcd"><rect x="2217" y="430" width="127" height="36"/><text x="2280.5" y="445.75">positive regulation<tspan x="2280.5" dy="13.5">of cell differentiation</tspan></text></g>
<g id="prcco"><rect x="2639" y="423" width="148" height="50"/><text x="2713" y="439">positive regulation<tspan x="2713" dy="13.5">of cellular</tspan><tspan x="2713" dy="13.5">component organization</tspan></text></g>
<g id="nsd"><rect x="2986" y="430" width="104" height="36"/><text x="3038" y="445.75">nervous system<tspan x="3038" dy="13.5">development</tspan></text></g>
<g id="synorg"><rect x="3135" y="436" width="133" height="24"/><text x="3201.5" y="452.5">synapse organization</text></g>
<g id="nrcco"><rect x="3314" y="423" width="148" height="50"/><text x="3388" y="439">negative regulation<tspan x="3388" dy="13.5">of cellular</tspan><tspan x="3388" dy="13.5">component organization</tspan></text></g>
<g id="bfr"><rect x="3568" y="419" width="106" height="37"/><text x="3621" y="435.25">behavioral fear<tspan x="3621" dy="13.5">response</tspan></text><rect class="m" x="3568" y="456" width="53" height="21"/><rect class="m" x="3621" y="456" width="53" height="21"/><text x="3594.5" y="471">Mouse</text><text x="3647.5" y="471">Neurod2</text></g>
<g id="regsso"><rect x="3834" y="423" width="115" height="50"/><text x="3891.5" y="439">regulation of<tspan x="3891.5" dy="13.5">synapse structure</tspan><tspan x="3891.5" dy="13.5">or activity</tspan></text></g>
<g id="cogn"><rect x="4381" y="436" width="63" height="24"/><text x="4412.5" y="452.5">cognition</text></g>
<g id="prcmp"><rect x="5028" y="423" width="115" height="50"/><text x="5085.5" y="439">positive regulation<tspan x="5085.5" dy="13.5">of cellular</tspan><tspan x="5085.5" dy="13.5">metabolic process</tspan></text></g>
<g id="prbsp"><rect x="5192" y="423" width="114" height="50"/><text x="5249" y="439">positive regulation<tspan x="5249" dy="13.5">of biosynthetic</tspan><tspan x="5249" dy="13.5">process</tspan></text></g>
<g id="prncmp"><rect x="5361" y="417" width="131" height="63"/><text x="5426.5" y="432.75">positive regulation<tspan x="5426.5" dy="13.5">of nitrogen</tspan><tspan x="5426.5" dy="13.5">compound metabolic</tspan><tspan x="5426.5" dy="13.5">process</tspan></text></g>
<g id="regcbsp"><rect x="5542" y="423" width="126" height="50"/><text x="5605" y="439">regulation of<tspan x="5605" dy="13.5">cellular biosynthetic</tspan><tspan x="5605" dy="13.5">process</tspan></text></g>
<g id="regnbcmp"><rect x="5713" y="417" width="138" height="63"/><text x="5782" y="432.75">regulation of<tspan x="5782" dy="13.5">nucleobase-containing</tspan><tspan x="5782" dy="13.5">compound metabolic</tspan><tspan x="5782" dy="13.5">process</tspan></text></g>
<g id="prmmp"><rect x="5959" y="423" width="117" height="50"/><text x="6017.5" y="439">positive regulation<tspan x="6017.5" dy="13.5">of macromolecule</tspan><tspan x="6017.5" dy="13.5">metabolic process</tspan></text></g>
<g id="regmbsp"><rect x="6121" y="417" width="98" height="63"/><text x="6170" y="432.75">regulation of<tspan x="6170" dy="13.5">macromolecule</tspan><tspan x="6170" dy="13.5">biosynthetic</tspan><tspan x="6170" dy="13.5">process</tspan></text></g>
<g id="nbcbsp"><rect x="6316" y="423" width="144" height="50"/><text x="6388" y="439">nucleobase-containing<tspan x="6388" dy="13.5">compound biosynthetic</tspan><tspan x="6388" dy="13.5">process</tspan></text></g>
<g id="namp"><rect x="6557" y="430" width="116" height="36"/><text x="6615" y="445.75">nucleic acid<tspan x="6615" dy="13.5">metabolic process</tspan></text></g>
<g id="reggexp"><rect x="6821" y="430" width="106" height="36"/><text x="6874" y="445.75">regulation of<tspan x="6874" dy="13.5">gene expression</tspan></text></g>
<g id="protmod"><rect x="7413" y="430" width="123" height="36"/><text x="7474.5" y="445.75">protein modification<tspan x="7474.5" dy="13.5">process</tspan></text></g>
<g id="crca"><rect x="289" y="521" width="112" height="36"/><text x="345" y="536.75">cellular response<tspan x="345" dy="13.5">to calcium ion</tspan></text><rect class="m" x="289" y="557" width="56" height="21"/><rect class="m" x="345" y="557" width="56" height="21"/><text x="317" y="572">Mouse</text><text x="373" y="572">Neurod2</text></g>
<g id="smms"><rect x="956" y="533" width="177" height="36"/><text x="1044.5" y="548.75">second-messenger-mediated<tspan x="1044.5" dy="13.5">signaling</tspan></text></g>
<g id="regist"><rect x="1179" y="526" width="118" height="50"/><text x="1238" y="542">regulation of<tspan x="1238" dy="13.5">intracellular</tspan><tspan x="1238" dy="13.5">signal transduction</tspan></text></g>
<g id="prst"><rect x="1394" y="533" width="135" height="36"/><text x="1461.5" y="548.75">positive regulation<tspan x="1461.5" dy="13.5">of signal transduction</tspan></text></g>
<g id="tss"><rect x="1928" y="533" width="92" height="36"/><text x="1974" y="548.75">trans-synaptic<tspan x="1974" dy="13.5">signaling</tspan></text></g>
<g id="neurog"><rect x="2538" y="539" width="87" height="24"/><text x="2581.5" y="555.5">neurogenesis</text></g>
<g id="synmat"><rect x="2909" y="539" width="125" height="24"/><text x="2971.5" y="555.5">synapse maturation</text></g>
<g id="regsynorg"><rect x="3080" y="533" width="133" height="36"/><text x="3146.5" y="548.75">regulation of<tspan x="3146.5" dy="13.5">synapse organization</tspan></text></g>
<g id="cnsd"><rect x="4063" y="533" width="130" height="36"/><text x="4128" y="548.75">central nervous<tspan x="4128" dy="13.5">system development</tspan></text></g>
<g id="lom"><rect x="4240" y="533" width="70" height="36"/><text x="4275" y="548.75">learning or<tspan x="4275" dy="13.5">memory</tspan></text></g>
<g id="headd"><rect x="4412" y="539" width="115" height="24"/><text x="4469.5" y="555.5">head development</text></g>
<g id="aod"><rect x="4573" y="533" width="84" height="36"/><text x="4615" y="548.75">animal organ<tspan x="4615" dy="13.5">development</tspan></text></g>
<g id="prcbsp"><rect x="5192" y="520" width="114" height="63"/><text x="5249" y="535.75">positive regulation<tspan x="5249" dy="13.5">of cellular</tspan><tspan x="5249" dy="13.5">biosynthetic</tspan><tspan x="5249" dy="13.5">process</tspan></text></g>
<g id="prnbcmp"><rect x="5705" y="520" width="155" height="63"/><text x="5782.5" y="535.75">positive regulation<tspan x="5782.5" dy="13.5">of nucleobase-containing</tspan><tspan x="5782.5" dy="13.5">compound metabolic</tspan><tspan x="5782.5" dy="13.5">process</tspan></text></g>
<g id="prmbsp"><rect x="6073" y="520" width="115" height="63"/><text x="6130.5" y="535.75">positive regulation<tspan x="6130.5" dy="13.5">of macromolecule</tspan><tspan x="6130.5" dy="13.5">biosynthetic</tspan><tspan x="6130.5" dy="13.5">process</tspan></text></g>
<g id="rnamp"><rect x="6366" y="533" width="97" height="36"/><text x="6414.5" y="548.75">RNA metabolic<tspan x="6414.5" dy="13.5">process</tspan></text></g>
<g id="pmsc"><rect x="7413" y="519" width="123" height="63"/><text x="7474.5" y="534.75">protein modification<tspan x="7474.5" dy="13.5">by small protein</tspan><tspan x="7474.5" dy="13.5">conjugation</tspan><tspan x="7474.5" dy="13.5">or removal</tspan></text></g>
<g id="cams"><rect x="1076" y="625" width="112" height="36"/><text x="1132" y="640.75">calcium-mediated<tspan x="1132" dy="13.5">signaling</tspan></text></g>
<g id="prist"><rect x="1285" y="618" width="118" height="50"/><text x="1344" y="634">positive regulation<tspan x="1344" dy="13.5">of intracellular</tspan><tspan x="1344" dy="13.5">signal transduction</tspan></text></g>
<g id="regtss"><rect x="1951" y="618" width="93" height="50"/><text x="1997.5" y="634">regulation of<tspan x="1997.5" dy="13.5">trans-synaptic</tspan><tspan x="1997.5" dy="13.5">signaling</tspan></text></g>
<g id="atss"><rect x="2234" y="618" width="92" height="50"/><text x="2280" y="634">anterograde<tspan x="2280" dy="13.5">trans-synaptic</tspan><tspan x="2280" dy="13.5">signaling</tspan></text></g>
<g id="gon"><rect x="2538" y="625" width="86" height="36"/><text x="2581" y="640.75">generation of<tspan x="2581" dy="13.5">neurons</tspan></text></g>
<g id="regsynmat"><rect x="2909" y="625" width="125" height="36"/><text x="2971.5" y="640.75">regulation of<tspan x="2971.5" dy="13.5">synapse maturation</tspan></text></g>
<g id="nrsynorg"><rect x="3174" y="625" width="147" height="36"/><text x="3247.5" y="640.75">negative regulation<tspan x="3247.5" dy="13.5">of synapse organization</tspan></text></g>
<g id="learn"><rect x="4239" y="631" width="54" height="24"/><text x="4266" y="647.5">learning</text></g>
<g id="braind"><rect x="4477" y="631" width="116" height="24"/><text x="4535" y="647.5">brain development</text></g>
<g id="regrnamp"><rect x="6124" y="618" width="96" height="50"/><text x="6172" y="634">regulation of<tspan x="6172" dy="13.5">RNA metabolic</tspan><tspan x="6172" dy="13.5">process</tspan></text></g>
<g id="rnabsp"><rect x="6431" y="625" width="111" height="36"/><text x="6486.5" y="640.75">RNA biosynthetic<tspan x="6486.5" dy="13.5">process</tspan></text></g>
<g id="pmspc"><rect x="7413" y="617" width="123" height="50"/><text x="7474.5" y="633">protein modification<tspan x="7474.5" dy="13.5">by small protein</tspan><tspan x="7474.5" dy="13.5">conjugation</tspan></text></g>
<g id="regcams"><rect x="1180" y="708" width="112" height="50"/><text x="1236" y="724">regulation of<tspan x="1236" dy="13.5">calcium-mediated</tspan><tspan x="1236" dy="13.5">signaling</tspan></text></g>
<g id="cst"><rect x="2228" y="715" width="114" height="36"/><text x="2285" y="730.75">chemical synaptic<tspan x="2285" dy="13.5">transmission</tspan></text></g>
<g id="ndiff"><rect x="2501" y="721" width="131" height="24"/><text x="2566.5" y="737.5">neuron differentiation</text></g>
<g id="prsynmat"><rect x="2697" y="705" width="141" height="36"/><text x="2767.5" y="720.75">positive regulation<tspan x="2767.5" dy="13.5">of synapse maturation</tspan></text><rect class="m" x="2697" y="741" width="70.5" height="21"/><rect class="m" x="2767.5" y="741" width="70.5" height="21"/><text x="2732.25" y="756">Mouse</text><text x="2802.75" y="756">Neurod2</text></g>
<g id="nrsynmat"><rect x="3108" y="705" width="140" height="36"/><text x="3178" y="720.75">negative regulation<tspan x="3178" dy="13.5">of synapse maturation</tspan></text><rect class="m" x="3108" y="741" width="70" height="21"/><rect class="m" x="3178" y="741" width="70" height="21"/><text x="3143" y="756">Mouse</text><text x="3213" y="756">Neurod2</text></g>
<g id="assoc"><rect x="4208" y="705" width="107" height="36"/><text x="4261.5" y="720.75">associative<tspan x="4261.5" dy="13.5">learning</tspan></text><rect class="m" x="4208" y="741" width="53.5" height="21"/><rect class="m" x="4261.5" y="741" width="53.5" height="21"/><text x="4234.75" y="756">Mouse</text><text x="4288.25" y="756">Neurod2</text></g>
<g id="hindd"><rect x="4568" y="721" width="139" height="24"/><text x="4637.5" y="737.5">hindbrain development</text></g>
<g id="prrnamp"><rect x="6101" y="708" width="115" height="50"/><text x="6158.5" y="724">positive regulation<tspan x="6158.5" dy="13.5">of RNA metabolic</tspan><tspan x="6158.5" dy="13.5">process</tspan></text></g>
<g id="regrnabsp"><rect x="6262" y="708" width="111" height="50"/><text x="6317.5" y="724">regulation of<tspan x="6317.5" dy="13.5">RNA biosynthetic</tspan><tspan x="6317.5" dy="13.5">process</tspan></text></g>
<g id="nat"><rect x="6612" y="714" width="139" height="36"/><text x="6681.5" y="729.75">nucleic acid-templated<tspan x="6681.5" dy="13.5">transcription</tspan></text></g>
<g id="pubiq"><rect x="7409" y="708" width="129" height="24"/><text x="7473.5" y="724.5">protein ubiquitination</text><rect class="m" x="7409" y="732" width="64.5" height="21"/><rect class="m" x="7473.5" y="732" width="64.5" height="21"/><text x="7441.25" y="747">Mouse</text><text x="7505.75" y="747">Neurod2</text></g>
<g id="prcams"><rect x="1172" y="797" width="127" height="50"/><text x="1235.5" y="813">positive regulation<tspan x="1235.5" dy="13.5">of calcium-mediated</tspan><tspan x="1235.5" dy="13.5">signaling</tspan></text><rect class="m" x="1172" y="847" width="63.5" height="21"/><rect class="m" x="1235.5" y="847" width="63.5" height="21"/><text x="1203.75" y="862">Mouse</text><text x="1267.25" y="862">Neurod2</text></g>
<g id="modcst"><rect x="2228" y="808" width="114" height="50"/><text x="2285" y="824">modulation of<tspan x="2285" dy="13.5">chemical synaptic</tspan><tspan x="2285" dy="13.5">transmission</tspan></text></g>
<g id="regnd"><rect x="2388" y="815" width="130" height="36"/><text x="2453" y="830.75">regulation of<tspan x="2453" dy="13.5">neuron differentiation</tspan></text></g>
<g id="neurond"><rect x="3126" y="810" width="127" height="24"/><text x="3189.5" y="826.5">neuron development</text><rect class="m" x="3126" y="834" width="63.5" height="21"/><rect class="m" x="3189.5" y="834" width="63.5" height="21"/><text x="3157.75" y="849">Mouse</text><text x="3221.25" y="849">Neurod2</text></g>
<g id="metd"><rect x="4612" y="815" width="98" height="36"/><text x="4661" y="830.75">metencephalon<tspan x="4661" dy="13.5">development</tspan></text></g>
<g id="prrnabsp"><rect x="6176" y="808" width="125" height="50"/><text x="6238.5" y="824">positive regulation<tspan x="6238.5" dy="13.5">of RNA biosynthetic</tspan><tspan x="6238.5" dy="13.5">process</tspan></text></g>
<g id="regnat"><rect x="6612" y="806" width="139" height="50"/><text x="6681.5" y="822">regulation of<tspan x="6681.5" dy="13.5">nucleic acid-templated</tspan><tspan x="6681.5" dy="13.5">transcription</tspan></text></g>
<g id="dnat"><rect x="6871" y="813" width="98" height="36"/><text x="6920" y="828.75">DNA-templated<tspan x="6920" dy="13.5">transcription</tspan></text></g>
<g id="prnd"><rect x="2378" y="904" width="148" height="37"/><text x="2452" y="920.25">positive regulation<tspan x="2452" dy="13.5">of neuron differentiation</tspan></text><rect class="m" x="2378" y="941" width="74" height="21"/><rect class="m" x="2452" y="941" width="74" height="21"/><text x="2415" y="956">Mouse</text><text x="2489" y="956">Neurod2</text></g>
<g id="regsp"><rect x="3309" y="915" width="115" height="36"/><text x="3366.5" y="930.75">regulation of<tspan x="3366.5" dy="13.5">synaptic plasticity</tspan></text></g>
<g id="cered"><rect x="4585" y="920" width="151" height="24"/><text x="4660.5" y="936.5">cerebellum development</text></g>
<g id="regmf"><rect x="5617" y="915" width="116" height="36"/><text x="5675" y="930.75">regulation of<tspan x="5675" dy="13.5">molecular function</tspan></text></g>
<g id="prnat"><rect x="6485" y="908" width="155" height="50"/><text x="6562.5" y="924">positive regulation<tspan x="6562.5" dy="13.5">of nucleic acid-templated</tspan><tspan x="6562.5" dy="13.5">transcription</tspan></text></g>
<g id="regdnat"><rect x="6685" y="906" width="99" height="50"/><text x="6734.5" y="922">regulation of<tspan x="6734.5" dy="13.5">DNA-templated</tspan><tspan x="6734.5" dy="13.5">transcription</tspan></text></g>
<g id="trp2"><rect x="6880" y="906" width="125" height="50"/><text x="6942.5" y="922">transcription<tspan x="6942.5" dy="13.5">by RNA polymerase</tspan><tspan x="6942.5" dy="13.5">II</tspan></text></g>
<g id="prsp"><rect x="3308" y="998" width="116" height="50"/><text x="3366" y="1014">positive regulation<tspan x="3366" dy="13.5">of synaptic</tspan><tspan x="3366" dy="13.5">plasticity</tspan></text><rect class="m" x="3308" y="1048" width="58" height="21"/><rect class="m" x="3366" y="1048" width="58" height="21"/><text x="3337" y="1063">Mouse</text><text x="3395" y="1063">Neurod2</text></g>
<g id="ccd"><rect x="4666" y="1005" width="112" height="36"/><text x="4722" y="1020.75">cerebellar cortex<tspan x="4722" dy="13.5">development</tspan></text><rect class="m" x="4666" y="1041" width="56" height="21"/><rect class="m" x="4722" y="1041" width="56" height="21"/><text x="4694" y="1056">Mouse</text><text x="4750" y="1056">Neurod2</text></g>
<g id="prmf"><rect x="5619" y="1009" width="114" height="50"/><text x="5676" y="1025">positive regulation<tspan x="5676" dy="13.5">of molecular</tspan><tspan x="5676" dy="13.5">function</tspan></text></g>
<g id="regdbtf"><rect x="5780" y="1002" width="89" height="63"/><text x="5824.5" y="1017.75">regulation of<tspan x="5824.5" dy="13.5">DNA-binding</tspan><tspan x="5824.5" dy="13.5">transcription</tspan><tspan x="5824.5" dy="13.5">factor activity</tspan></text></g>
<g id="prdnat"><rect x="6643" y="1007" width="114" height="50"/><text x="6700" y="1023">positive regulation<tspan x="6700" dy="13.5">of DNA-templated</tspan><tspan x="6700" dy="13.5">transcription</tspan></text></g>
<g id="regtrp2"><rect x="6803" y="1000" width="125" height="63"/><text x="6865.5" y="1015.75">regulation of<tspan x="6865.5" dy="13.5">transcription</tspan><tspan x="6865.5" dy="13.5">by RNA polymerase</tspan><tspan x="6865.5" dy="13.5">II</tspan></text></g>
<g id="prdbtf"><rect x="5692" y="1105" width="116" height="63"/><text x="5750" y="1120.75">positive regulation<tspan x="5750" dy="13.5">of DNA-binding</tspan><tspan x="5750" dy="13.5">transcription</tspan><tspan x="5750" dy="13.5">factor activity</tspan></text><rect class="m" x="5692" y="1168" width="58" height="21"/><rect class="m" x="5750" y="1168" width="58" height="21"/><text x="5721" y="1183">Mouse</text><text x="5779" y="1183">Neurod2</text></g>
<g id="prtrp2"><rect x="6801" y="1102" width="127" height="63"/><text x="6864.5" y="1117.75">positive regulation<tspan x="6864.5" dy="13.5">of transcription</tspan><tspan x="6864.5" dy="13.5">by RNA polymerase</tspan><tspan x="6864.5" dy="13.5">II</tspan></text><rect class="m" x="6801" y="1165" width="63.5" height="21"/><rect class="m" x="6864.5" y="1165" width="63.5" height="21"/><text x="6832.75" y="1180">Mouse</text><text x="6896.25" y="1180">Neurod2</text></g>
</g>
</svg>
